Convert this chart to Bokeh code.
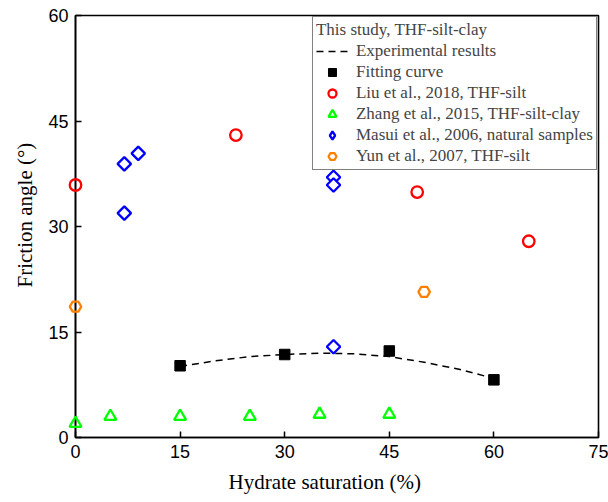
from bokeh.plotting import figure
from bokeh.models import Legend, LegendItem, Range1d, FixedTicker, Title
from bokeh.embed import file_html
from bokeh.resources import INLINE

# Experimental results (dashed curve, this study)
curve_x = [15, 20, 25, 30, 35, 40, 45, 50, 55, 60]
curve_y = [10.1, 10.9, 11.5, 11.8, 12.0, 11.9, 11.5, 10.7, 9.7, 8.4]
# Fitting curve (black squares, this study)
fit_x = [15, 30, 45, 60]
fit_y = [10.2, 11.8, 12.3, 8.2]
# Liu et al., 2018
liu_x = [0, 23, 49, 65]
liu_y = [35.9, 43.0, 34.9, 27.9]
# Zhang et al., 2015
zhang_x = [0, 5, 15, 25, 35, 45]
zhang_y = [2.0, 3.0, 3.0, 3.0, 3.3, 3.3]
# Masui et al., 2006
masui_x = [7, 7, 9, 37, 37, 37]
masui_y = [31.9, 38.9, 40.4, 37.0, 35.9, 12.9]
# Yun et al., 2007
yun_x = [0, 50]
yun_y = [18.6, 20.7]

x_ticks = [0, 15, 30, 45, 60, 75]
y_ticks = [0, 15, 30, 45, 60]

SERIF = "Liberation Serif"
SANS = "Liberation Sans"

p = figure(width=608, height=502, output_backend="svg", toolbar_location=None,
           x_range=Range1d(0, 75), y_range=Range1d(0, 60),
           min_border_left=75, min_border_right=10, min_border_top=15, min_border_bottom=65)
p.background_fill_color = "white"
p.border_fill_color = "white"
p.outline_line_color = "black"
p.outline_line_width = 1.6
p.xgrid.visible = False
p.ygrid.visible = False

for ax, ticks in ((p.xaxis[0], x_ticks), (p.yaxis[0], y_ticks)):
    ax.ticker = FixedTicker(ticks=ticks)
    ax.minor_tick_line_color = None
    ax.major_tick_in = 6
    ax.major_tick_out = 0
    ax.major_tick_line_width = 1.5
    ax.axis_line_width = 1.6
    ax.axis_line_color = "black"
    ax.major_tick_line_color = "black"
    ax.major_label_text_font = SANS
    ax.major_label_text_font_size = "18px"
    ax.major_label_text_color = "black"

p.xaxis.major_label_standoff = 7
p.yaxis.major_label_standoff = 7

# axis titles (slightly off-centre toward the origin, as in the reference)
xt = Title(text="Hydrate saturation (%)", align="left", offset=153, standoff=15,
           text_font=SERIF, text_font_size="21px", text_font_style="normal", text_color="black")
yt = Title(text="Friction angle (°)", align="left", offset=150, standoff=18,
           text_font=SERIF, text_font_size="21px", text_font_style="normal", text_color="black")
p.add_layout(xt, "below")
p.add_layout(yt, "left")

r_exp = p.line(curve_x, curve_y, line_color="black", line_width=1.5, line_dash="7 5")
r_fit = p.scatter(fit_x, fit_y, marker="square", size=10.5, fill_color="black", line_color="black", level="overlay")
r_liu = p.scatter(liu_x, liu_y, marker="circle", size=11.5, fill_color=None, line_color="#ff0000", line_width=2.3, level="overlay")
r_zhang = p.scatter(zhang_x, zhang_y, marker="triangle", size=12, fill_color=None, line_color="#00ff00", line_width=2.3, level="overlay")
# tiny diamond under the white-filled rotated squares: supplies the legend glyph
r_masui_leg = p.scatter(masui_x, masui_y, marker="diamond", size=1, fill_color=None, line_color="#0000ff", line_width=2.3)
r_masui = p.scatter(masui_x, masui_y, marker="square", angle=0.7854, size=9.5, fill_color="white", line_color="#0000ff", line_width=2.3, level="overlay")
r_yun = p.scatter(yun_x, yun_y, marker="hex", size=11.5, fill_color=None, line_color="#ff8000", line_width=2.3, level="overlay")

legend = Legend(items=[
    LegendItem(label="Experimental results", renderers=[r_exp]),
    LegendItem(label="Fitting curve", renderers=[r_fit]),
    LegendItem(label="Liu et al., 2018, THF-silt", renderers=[r_liu]),
    LegendItem(label="Zhang et al., 2015, THF-silt-clay", renderers=[r_zhang]),
    LegendItem(label="Masui et al., 2006, natural samples", renderers=[r_masui_leg]),
    LegendItem(label="Yun et al., 2007, THF-silt", renderers=[r_yun]),
], location="top_right")
legend.title = "This study, THF-silt-clay"
legend.title_text_font = SERIF
legend.title_text_font_size = "17px"
legend.title_text_font_style = "normal"
legend.title_standoff = 1
legend.label_text_font = SERIF
legend.label_text_font_size = "17px"
legend.label_height = 20
legend.glyph_height = 20
legend.glyph_width = 32
legend.label_standoff = 8
legend.spacing = 1
legend.padding = 3
legend.margin = 1
legend.border_line_color = "black"
legend.border_line_width = 1
legend.background_fill_alpha = 1
p.add_layout(legend)

open("out.html", "w").write(file_html(p, INLINE))
